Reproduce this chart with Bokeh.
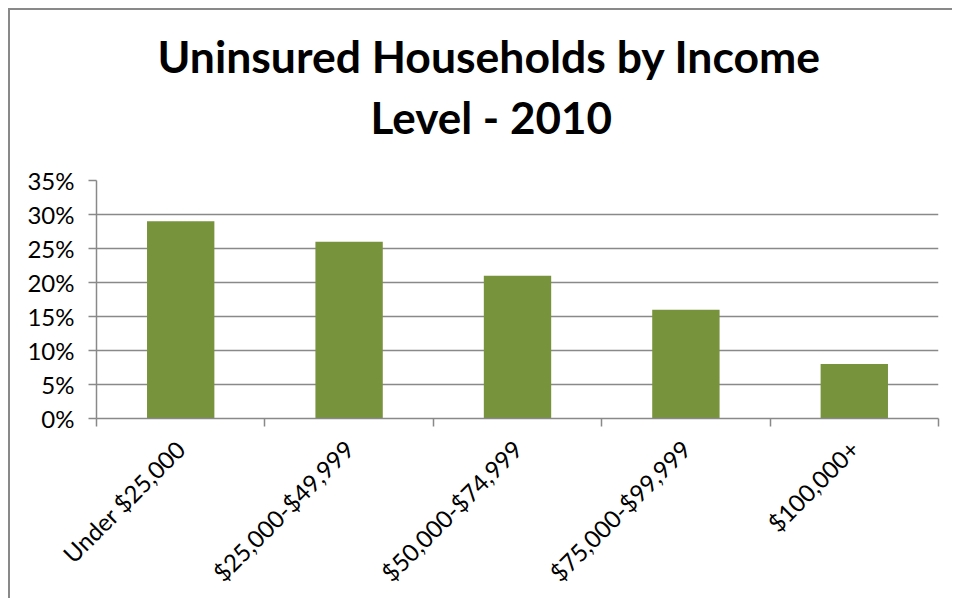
import math
from bokeh.plotting import figure
from bokeh.models import (LinearAxis, FixedTicker, Range1d, Title, ColumnDataSource,
                          CustomJSTickFormatter, Grid)
from bokeh.embed import file_html
from bokeh.resources import INLINE

categories = ["Under $25,000", "$25,000-$49,999", "$50,000-$74,999", "$75,000-$99,999", "$100,000+"]
uninsured_pct = [29, 26, 21, 16, 8]
y_ticks = [0, 5, 10, 15, 20, 25, 30, 35]
title_lines = ["Uninsured Households by Income", "Level - 2010"]

FONT = "Lato"
GRAY = "#898989"
BAR = "#77933C"

n = len(categories)
centers = [i + 0.5 for i in range(n)]
boundaries = list(range(n + 1))
src = ColumnDataSource(dict(x=centers, pct=uninsured_pct, cat=categories))

W, H = 944, 590
p = figure(width=W, height=H, output_backend="svg", toolbar_location=None, title=None,
           tools="", x_range=Range1d(0, n), y_range=Range1d(0, 35),
           min_border_left=86, min_border_right=16, min_border_top=170, min_border_bottom=180,
           x_axis_location=None, y_axis_location=None)
p.toolbar.logo = None
p.styles = {"margin-left": "8px", "margin-top": "8px", "overflow": "hidden",
            "border-left": f"2px solid {GRAY}", "border-top": f"2px solid {GRAY}"}
p.outline_line_color = None
p.background_fill_color = "white"
p.border_fill_color = "white"

p.vbar(x="x", top="pct", width=0.4, source=src, fill_color=BAR, line_color=None)

# y axis
yax = LinearAxis(ticker=FixedTicker(ticks=y_ticks),
                 formatter=CustomJSTickFormatter(code="return tick.toFixed(0) + '%';"))
yax.axis_line_color = GRAY
yax.axis_line_width = 1.5
yax.major_tick_line_color = GRAY
yax.major_tick_line_width = 1.5
yax.major_tick_in = 0
yax.major_tick_out = 8
yax.minor_tick_line_color = None
yax.major_label_text_font = FONT
yax.major_label_text_font_size = "24px"
yax.major_label_text_color = "black"
yax.major_label_standoff = 14
p.add_layout(yax, "left")

# x axis: labels at category centers, tick marks at category boundaries (minor ticks)
xax = LinearAxis(ticker=FixedTicker(ticks=centers, minor_ticks=boundaries),
                 major_label_overrides={c: cat for c, cat in zip(centers, categories)})
xax.axis_line_color = GRAY
xax.axis_line_width = 1.5
xax.major_tick_line_color = None
xax.major_tick_in = 0
xax.major_tick_out = 0
xax.minor_tick_line_color = GRAY
xax.minor_tick_line_width = 1.5
xax.minor_tick_in = 0
xax.minor_tick_out = 8
xax.major_label_orientation = math.pi / 4
xax.major_label_text_font = FONT
xax.major_label_text_font_size = "24px"
xax.major_label_text_color = "black"
xax.major_label_standoff = 18
p.add_layout(xax, "below")

p.grid.visible = False
g = Grid(dimension=1, ticker=yax.ticker, grid_line_color=GRAY, grid_line_width=1.5)
p.add_layout(g)

# title: two lines, the second one closest to the frame
p.add_layout(Title(text=title_lines[1], text_font=FONT, text_font_style="bold",
                   text_font_size="44px", align="left", offset=274, standoff=76,
                   text_color="black"), "above")
p.add_layout(Title(text=title_lines[0], text_font=FONT, text_font_style="bold",
                   text_font_size="44.5px", align="left", offset=61, standoff=-63,
                   text_color="black"), "above")

open("out.html", "w").write(file_html(p, INLINE))
